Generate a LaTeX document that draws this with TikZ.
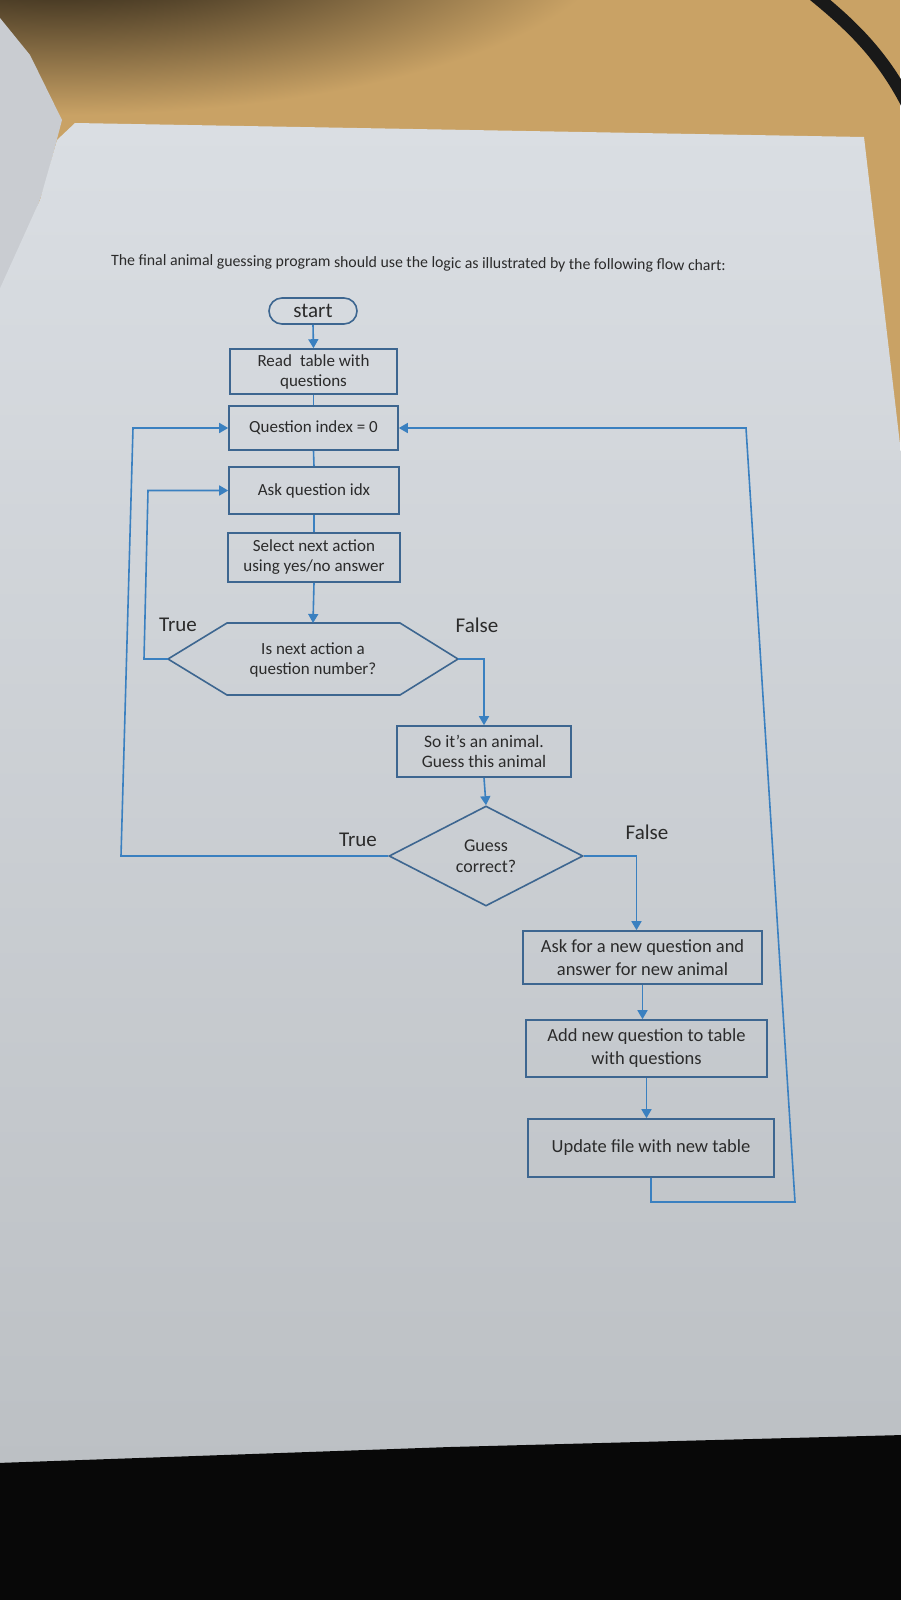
\documentclass[tikz,border=0pt]{standalone}
\usepackage{fontspec}
\setmainfont{Carlito}
\usetikzlibrary{arrows.meta,shapes.geometric,calc}
\definecolor{wood}{HTML}{C9A265}
\definecolor{paperTop}{HTML}{DADEE3}
\definecolor{paperBot}{HTML}{BCC0C4}
\definecolor{sheet}{HTML}{C9CCD1}
\definecolor{ink}{HTML}{2B2B2B}
\definecolor{boxcol}{HTML}{3D6690}
\definecolor{linecol}{HTML}{3A80C0}
\tikzset{
  box/.style={draw=boxcol, line width=1.6, rectangle, inner sep=0, align=center, text=ink},
  upper/.style={font=\fontsize{17}{20}\selectfont},
  lower/.style={font=\fontsize{18.5}{23}\selectfont},
  flow/.style={draw=linecol, line width=1.6},
  arr/.style={flow, -{Triangle[width=10pt,length=9pt]}},
  lbl/.style={font=\fontsize{21}{24}\selectfont, text=ink, inner sep=0},
}
\begin{document}
\begin{tikzpicture}[x=1pt,y=-1pt]
\useasboundingbox (0,0) rectangle (900,1600);

% desk, shadow and cable
\fill[wood] (0,0) rectangle (900,1600);
\begin{scope}
  \clip (0,0) rectangle (900,160);
  \shade[inner color=black, outer color=wood] (60,-70) ellipse [x radius=560, y radius=185];
\end{scope}
\draw[line width=13, black!90, line cap=round] (808,-10) .. controls (845,20) and (880,50) .. (908,105);

% loose sheet on the left
\fill[sheet] (0,18) -- (30,55) -- (62,120) -- (45,185) -- (22,250) -- (0,305) -- cycle;

% the printed page
\shade[top color=paperTop, bottom color=paperBot]
  (75,123) -- (864,137) -- (903,470) -- (903,1440) -- (-3,1468) -- (-3,295) -- (40,200) -- (57,140) -- cycle;

% dark area below the page
\fill[black!97] (-3,1603) -- (-3,1463) -- (450,1447) -- (903,1435) -- (903,1603) -- cycle;

% heading
\node[font=\fontsize{15.8}{18}\selectfont, text=ink, rotate=-0.5, anchor=west, inner sep=0] (title) at (111,261)
  {The final animal guessing program should use the logic as illustrated by the following flow chart:};

% flow chart boxes
\node[box, rounded corners=13, minimum width=88, minimum height=26, font=\fontsize{21}{24}\selectfont] (start) at (313,311) {start};
\node[box, upper, minimum width=167, minimum height=45] (read) at (313.5,371.5) {Read\hspace{0.25em} table with\\questions};
\node[box, upper, minimum width=169, minimum height=44] (qidx) at (313.5,428) {Question index = 0};
\node[box, upper, minimum width=170, minimum height=47] (ask) at (314,490.5) {Ask question idx};
\node[box, upper, minimum width=172, minimum height=49] (select) at (314,557.5) {Select next action\\using yes/no answer};

% hexagonal decision
\coordinate (hexL) at (168,659);
\coordinate (hexR) at (458,659);
\coordinate (hexN) at (313,623);
\draw[draw=boxcol, line width=1.6] (hexL) -- (227,623) -- (400,623) -- (hexR) -- (400,695) -- (227,695) -- cycle;
\node[upper, text=ink, align=center, inner sep=0] (hex) at (313,659.5) {Is next action a\\question number?};

\node[box, font=\fontsize{17.5}{20}\selectfont, minimum width=174, minimum height=51] (soit) at (484,751.5) {So it’s an animal.\\Guess this animal};
\node[box, diamond, minimum width=194, minimum height=100, font=\fontsize{18}{21}\selectfont] (guess) at (486,856) {Guess\\correct?};
\node[box, lower, minimum width=239, minimum height=53] (newq) at (642.5,957.5) {Ask for a new question and\\answer for new animal};
\node[box, lower, minimum width=241, minimum height=57] (addq) at (646.5,1048.5) {Add new question to table\\with questions};
\node[box, lower, minimum width=246, minimum height=58] (update) at (651,1148) {Update file with new table};

% branch labels
\node[lbl] (t1) at (178,625) {True};
\node[lbl] (f1) at (477,625) {False};
\node[lbl] (t2) at (358,840) {True};
\node[lbl] (f2) at (647,832) {False};

% bends of the loop lines
\coordinate (lp1) at (144,659);
\coordinate (lp2) at (148,490.5);
\coordinate (op1) at (121,856);
\coordinate (op2) at (133,428);
\coordinate (rp1) at (651,1202);
\coordinate (rp2) at (795,1202);
\coordinate (rp3) at (746,428);

% connectors
\draw[arr] (start.south) -- (read.north);
\draw[flow] (read.south) -- (qidx.north);
\draw[flow] (qidx.south) -- (ask.north);
\draw[flow] (ask.south) -- (select.north);
\draw[arr] (select.south) -- (hexN);
\draw[arr] (hexR) -| (soit.north);
\draw[arr] (hexL) -- (lp1) -- (lp2) -- (ask.west);
\draw[arr] (soit.south) -- (guess.north);
\draw[arr] (guess.west) -- (op1) -- (op2) -- (qidx.west);
\draw[arr] (guess.east) -| ([xshift=-6]newq.north);
\draw[arr] (newq.south) -- (newq.south |- addq.north);
\draw[arr] (addq.south) -- (addq.south |- update.north);
\draw[arr] (update.south) -- (rp1) -- (rp2) -- (rp3) -- (qidx.east);
\end{tikzpicture}
\end{document}
